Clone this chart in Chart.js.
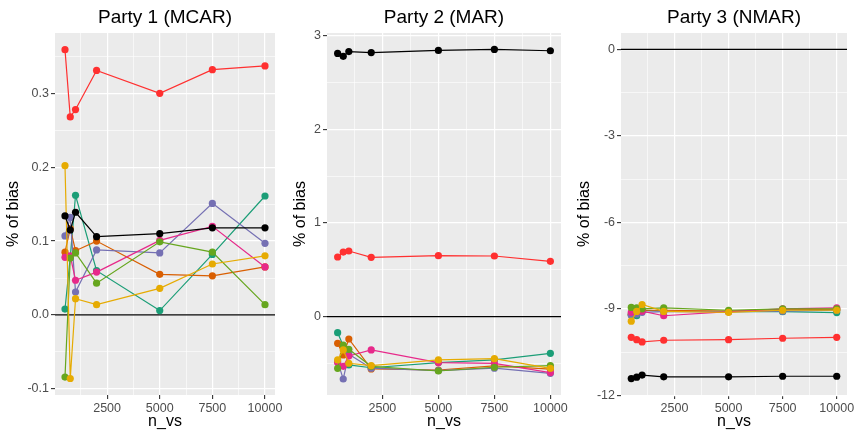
<!DOCTYPE html>
<html><head><meta charset="utf-8">
<script src="https://cdn.jsdelivr.net/npm/chart.js@4/dist/chart.umd.min.js"></script>
<style>
html,body{margin:0;padding:0;background:#fff;width:855px;height:433px;overflow:hidden}
.c{position:absolute;top:0}
</style></head>
<body>
<canvas id="c1" class="c" style="left:0px" width="287" height="433"></canvas>
<canvas id="c2" class="c" style="left:287px" width="284" height="433"></canvas>
<canvas id="c3" class="c" style="left:571px" width="284" height="433"></canvas>
<script>
// ---------------- data ----------------
const nvs = [500, 750, 1000, 2000, 5000, 7500, 10000];

// Party 1 (MCAR)
const p1Black  = [0.134, 0.115, 0.139, 0.106, 0.110, 0.118, 0.118];
const p1Red    = [0.359, 0.268, 0.278, 0.331, 0.300, 0.332, 0.337];
const p1Teal   = [0.008, 0.078, 0.162, 0.060, 0.006, 0.082, 0.161];
const p1Orange = [0.085, 0.117, 0.087, 0.100, 0.055, 0.053, 0.065];
const p1Purple = [0.107, 0.132, 0.031, 0.088, 0.084, 0.151, 0.097];
const p1Pink   = [0.078, 0.080, 0.047, 0.058, 0.101, 0.120, 0.065];
const p1Green  = [-0.084, 0.077, 0.084, 0.043, 0.099, 0.085, 0.014];
const p1Yellow = [0.202, -0.086, 0.022, 0.014, 0.036, 0.069, 0.080];

// Party 2 (MAR)
const p2Black  = [2.81, 2.78, 2.83, 2.82, 2.843, 2.853, 2.839];
const p2Red    = [0.637, 0.690, 0.701, 0.634, 0.651, 0.648, 0.591];
const p2Teal   = [-0.171, -0.31, -0.515, -0.545, -0.49, -0.462, -0.391];
const p2Orange = [-0.284, -0.409, -0.238, -0.558, -0.569, -0.526, -0.56];
const p2Purple = [-0.48, -0.665, -0.40, -0.55, -0.575, -0.55, -0.605];
const p2Pink   = [-0.49, -0.53, -0.42, -0.355, -0.49, -0.498, -0.597];
const p2Green  = [-0.551, -0.302, -0.348, -0.53, -0.58, -0.54, -0.523];
const p2Yellow = [-0.462, -0.355, -0.497, -0.523, -0.462, -0.448, -0.551];

// Party 3 (NMAR)
const p3Black  = [-11.42, -11.37, -11.30, -11.36, -11.36, -11.34, -11.34];
const p3Red    = [-9.99, -10.07, -10.15, -10.09, -10.07, -10.02, -9.99];
const p3Teal   = [-9.2, -9.24, -9.05, -9.08, -9.1, -9.1, -9.13];
const p3Orange = [-9.2, -9.1, -9.05, -9.05, -9.08, -9.02, -9.02];
const p3Purple = [-9.22, -9.18, -9.12, -9.1, -9.1, -9.08, -9.05];
const p3Pink   = [-9.12, -9.1, -9.08, -9.24, -9.1, -9.0, -8.97];
const p3Green  = [-8.95, -8.97, -9.0, -8.97, -9.05, -9.0, -9.0];
const p3Yellow = [-9.43, -9.09, -8.85, -9.09, -9.12, -9.05, -9.05];

// ticks
const xTickValues = [2500, 5000, 7500, 10000];
const xTickLabels = ['2500', '5000', '7500', '10000'];
const xMinorValues = [1250, 3750, 6250, 8750];

const p1YTickValues = [-0.1, 0, 0.1, 0.2, 0.3];
const p1YTickLabels = ['-0.1', '0.0', '0.1', '0.2', '0.3'];
const p1YMinorValues = [-0.05, 0.05, 0.15, 0.25, 0.35];

const p2YTickValues = [0, 1, 2, 3];
const p2YTickLabels = ['0', '1', '2', '3'];
const p2YMinorValues = [-0.5, 0.5, 1.5, 2.5];

const p3YTickValues = [-12, -9, -6, -3, 0];
const p3YTickLabels = ['-12', '-9', '-6', '-3', '0'];
const p3YMinorValues = [-10.5, -7.5, -4.5, -1.5];

const hlineValue = 0;

// ---------------- styling ----------------
const FONT = '"Liberation Sans", Arial, Helvetica, sans-serif';
const colors = {black:'#000000', red:'#FF3030', teal:'#1B9E77', orange:'#D95F02',
  purple:'#7570B3', pink:'#E7298A', green:'#66A61E', yellow:'#E6AB02'};
const xRange = {min: 25, max: 10475};

const panelBg = {
  id: 'panelBg',
  beforeDraw(chart) {
    const {ctx, chartArea: a} = chart;
    ctx.save();
    ctx.fillStyle = '#EBEBEB';
    ctx.fillRect(a.left, a.top, a.right - a.left, a.bottom - a.top);
    ctx.restore();
  }
};
const hline = {
  id: 'hline',
  beforeDatasetsDraw(chart, args, opts) {
    const {ctx, chartArea: a} = chart;
    const y = chart.scales.y.getPixelForValue(opts.value);
    ctx.save();
    ctx.strokeStyle = '#000';
    ctx.lineWidth = 1.3;
    ctx.beginPath();
    ctx.moveTo(a.left, y);
    ctx.lineTo(a.right, y);
    ctx.stroke();
    ctx.restore();
  }
};

function near(list, v) { return list.findIndex(m => Math.abs(m - v) < 1e-9); }

function makeChart(id, title, s, yRange, yMaj, yLab, yMin, axisW, rightPad) {
  const order = [['black', s.black], ['red', s.red], ['yellow', s.yellow], ['green', s.green],
    ['pink', s.pink], ['purple', s.purple], ['orange', s.orange], ['teal', s.teal]];
  const datasets = order.map(([name, vals]) => ({
    label: name,
    data: nvs.map((x, i) => ({x: x, y: vals[i]})),
    borderColor: colors[name],
    backgroundColor: colors[name],
    pointBackgroundColor: colors[name],
    pointBorderWidth: 0,
    pointRadius: 3.6,
    borderWidth: 1.2,
    tension: 0
  }));
  const gridCommon = (majors) => ({
    color: '#FFFFFF',
    lineWidth: (c) => (c.tick && near(majors, c.tick.value) >= 0) ? 1.2 : 0.6,
    tickColor: (c) => (c.tick && near(majors, c.tick.value) >= 0) ? '#333333' : 'rgba(0,0,0,0)',
    tickWidth: 1.1,
    tickLength: 4,
    drawTicks: true
  });
  return new Chart(document.getElementById(id), {
    type: 'line',
    data: {datasets},
    plugins: [panelBg, hline],
    options: {
      responsive: false,
      animation: false,
      devicePixelRatio: 1,
      layout: {padding: {left: 0, right: rightPad, top: 0, bottom: 0}},
      plugins: {
        legend: {display: false},
        tooltip: {enabled: false},
        hline: {value: hlineValue},
        title: {
          display: true, text: title, fullSize: false, color: '#000',
          font: {family: FONT, size: 19, weight: 'normal'},
          padding: {top: 6, bottom: 4.2}
        }
      },
      scales: {
        x: {
          type: 'linear', min: xRange.min, max: xRange.max,
          border: {display: false},
          grid: gridCommon(xTickValues),
          afterBuildTicks: (sc) => {
            sc.ticks = xTickValues.concat(xMinorValues).sort((a, b) => a - b).map(v => ({value: v}));
          },
          afterFit: (sc) => { sc.height = 38; sc.paddingLeft = 0; sc.paddingRight = 0; },
          ticks: {
            autoSkip: false, maxRotation: 0, padding: 2, color: '#4D4D4D',
            font: {family: FONT, size: 12.5},
            callback: (v) => { const i = near(xTickValues, v); return i >= 0 ? xTickLabels[i] : ''; }
          },
          title: {display: true, text: 'n_vs', color: '#000',
            font: {family: FONT, size: 16}, padding: {top: 0, bottom: 2}}
        },
        y: {
          type: 'linear', min: yRange[0], max: yRange[1],
          border: {display: false},
          grid: gridCommon(yMaj),
          afterBuildTicks: (sc) => {
            sc.ticks = yMaj.concat(yMin).sort((a, b) => a - b).map(v => ({value: v}));
          },
          afterFit: (sc) => { sc.width = axisW; sc.paddingTop = 0; sc.paddingBottom = 0; },
          ticks: {
            autoSkip: false, padding: 2, color: '#4D4D4D',
            font: {family: FONT, size: 12.5},
            callback: (v) => { const i = near(yMaj, v); return i >= 0 ? yLab[i] : ''; }
          },
          title: {display: true, text: '% of bias', color: '#000',
            font: {family: FONT, size: 16}, padding: {top: 4, bottom: 0}}
        }
      }
    }
  });
}

makeChart('c1', 'Party 1 (MCAR)',
  {black: p1Black, red: p1Red, teal: p1Teal, orange: p1Orange, purple: p1Purple, pink: p1Pink, green: p1Green, yellow: p1Yellow},
  [-0.1083, 0.3816], p1YTickValues, p1YTickLabels, p1YMinorValues, 55, 12);
makeChart('c2', 'Party 2 (MAR)',
  {black: p2Black, red: p2Red, teal: p2Teal, orange: p2Orange, purple: p2Purple, pink: p2Pink, green: p2Green, yellow: p2Yellow},
  [-0.836, 3.0285], p2YTickValues, p2YTickLabels, p2YMinorValues, 40, 10);
makeChart('c3', 'Party 3 (NMAR)',
  {black: p3Black, red: p3Red, teal: p3Teal, orange: p3Orange, purple: p3Purple, pink: p3Pink, green: p3Green, yellow: p3Yellow},
  [-11.99, 0.571], p3YTickValues, p3YTickLabels, p3YMinorValues, 50, 8);
</script>
</body></html>
